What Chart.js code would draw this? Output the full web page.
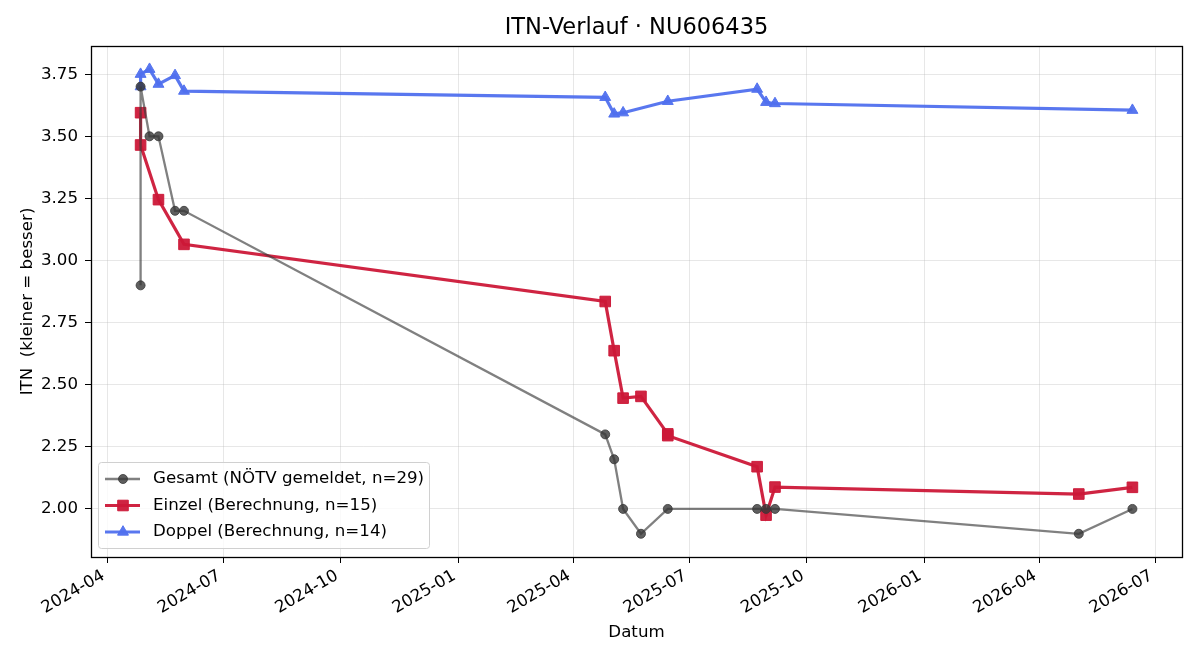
<!DOCTYPE html>
<html>
<head>
<meta charset="utf-8">
<script src="https://cdn.jsdelivr.net/npm/chart.js@4.4.1/dist/chart.umd.min.js"></script>
<style>
  html, body { margin: 0; padding: 0; background: #fff; }
  #wrap { width: 1200px; height: 660px; }
</style>
</head>
<body>
<div id="wrap"><canvas id="itnChart" width="1200" height="660"></canvas></div>
<script>
// Gesamt (NÖTV gemeldet)
const gesamtDates = ['2024-04-27', '2024-04-27', '2024-05-04', '2024-05-11', '2024-05-24', '2024-05-31',
  '2025-04-26', '2025-05-03', '2025-05-10', '2025-05-24', '2025-06-14',
  '2025-08-23', '2025-08-30', '2025-09-06', '2026-05-02', '2026-06-13'];
const gesamtValues = [2.90, 3.70, 3.50, 3.50, 3.20, 3.20,
  2.30, 2.20, 2.00, 1.90, 2.00,
  2.00, 2.00, 2.00, 1.90, 2.00];

// Einzel (Berechnung)
const einzelDates = ['2024-04-27', '2024-04-27', '2024-05-11', '2024-05-31',
  '2025-04-26', '2025-05-03', '2025-05-10', '2025-05-24', '2025-06-14', '2025-06-14',
  '2025-08-23', '2025-08-30', '2025-09-06', '2026-05-02', '2026-06-13'];
const einzelValues = [3.595, 3.465, 3.245, 3.065,
  2.835, 2.637, 2.446, 2.453, 2.302, 2.295,
  2.170, 1.975, 2.088, 2.060, 2.087];

// Doppel (Berechnung)
const doppelDates = ['2024-04-27', '2024-04-27', '2024-05-04', '2024-05-11', '2024-05-24', '2024-05-31',
  '2025-04-26', '2025-05-03', '2025-05-10', '2025-06-14',
  '2025-08-23', '2025-08-30', '2025-09-06', '2026-06-13'];
const doppelValues = [3.70, 3.75, 3.77, 3.71, 3.745, 3.682,
  3.657, 3.590, 3.595, 3.641,
  3.690, 3.637, 3.632, 3.605];

const seriesLabels = ['Gesamt (NÖTV gemeldet, n=29)', 'Einzel (Berechnung, n=15)', 'Doppel (Berechnung, n=14)'];
const chartTitle = 'ITN-Verlauf · NU606435';

const xTickLabels = ['2024-04', '2024-07', '2024-10', '2025-01', '2025-04', '2025-07', '2025-10', '2026-01', '2026-04', '2026-07'];
const yTickValues = [2.00, 2.25, 2.50, 2.75, 3.00, 3.25, 3.50, 3.75];

const FONT = "'DejaVu Sans', sans-serif";
const TXT = 16.67;

function toPoints(dates, values) {
  return dates.map((d, i) => ({ x: Date.parse(d), y: values[i] }));
}

// axis limits with 5% margin like matplotlib autoscale
const allX = [...gesamtDates, ...einzelDates, ...doppelDates].map(d => Date.parse(d));
const allY = [...gesamtValues, ...einzelValues, ...doppelValues];
const xLo = Math.min(...allX), xHi = Math.max(...allX);
const yLo = Math.min(...allY), yHi = Math.max(...allY);
const xPad = (xHi - xLo) * 0.05, yPad = (yHi - yLo) * 0.05;

const xTickValues = xTickLabels.map(l => Date.parse(l + '-01'));

// frame around the plot area + title centred over the axes
const framePlugin = {
  id: 'frame',
  afterDatasetsDraw(chart) {
    const { ctx, chartArea: a } = chart;
    ctx.save();
    ctx.strokeStyle = '#000';
    ctx.lineWidth = 1.3;
    ctx.strokeRect(Math.round(a.left) + 0.5, Math.round(a.top) + 0.5,
      Math.round(a.right - a.left), Math.round(a.bottom - a.top));
    ctx.fillStyle = '#000';
    ctx.font = '22.5px ' + FONT;
    ctx.textAlign = 'center';
    ctx.textBaseline = 'middle';
    ctx.fillText(chartTitle, (a.left + a.right) / 2, 28);
    ctx.restore();
  }
};

// legend inside the axes, lower left
const innerLegend = {
  id: 'innerLegend',
  afterDraw(chart) {
    const { ctx, chartArea: a } = chart;
    const x0 = a.left + 7, y0 = a.bottom - 95, w = 331, h = 86;
    ctx.save();
    ctx.beginPath();
    ctx.roundRect(x0 + 0.5, y0 + 0.5, w, h, 3);
    ctx.fillStyle = 'rgba(255,255,255,0.8)';
    ctx.fill();
    ctx.strokeStyle = '#d0d0d0';
    ctx.lineWidth = 1;
    ctx.stroke();
    chart.data.datasets.forEach((ds, i) => {
      const cy = y0 + 17 + i * 26.5;
      ctx.beginPath();
      ctx.moveTo(x0 + 7, cy);
      ctx.lineTo(x0 + 42, cy);
      ctx.strokeStyle = ds.borderColor;
      ctx.lineWidth = ds.borderWidth;
      ctx.stroke();
      ctx.fillStyle = ds.pointBackgroundColor;
      ctx.strokeStyle = ds.pointBorderColor;
      ctx.lineWidth = 1;
      Chart.helpers.drawPoint(ctx, { pointStyle: ds.pointStyle, radius: ds.pointRadius, borderWidth: 1 }, x0 + 25, cy);
      ctx.fillStyle = '#000';
      ctx.font = TXT + 'px ' + FONT;
      ctx.textAlign = 'left';
      ctx.textBaseline = 'middle';
      ctx.fillText(ds.label, x0 + 55, cy);
    });
    ctx.restore();
  }
};

const ctx = document.getElementById('itnChart').getContext('2d');
const chart = new Chart(ctx, {
  type: 'line',
  data: {
    datasets: [
      {
        label: seriesLabels[0],
        data: toPoints(gesamtDates, gesamtValues),
        borderColor: 'rgba(60,60,60,0.65)',
        borderWidth: 2.3,
        pointStyle: 'circle',
        pointRadius: 4.5,
        pointBackgroundColor: 'rgba(55,55,55,0.8)',
        pointBorderColor: 'rgba(55,55,55,0.8)',
        pointBorderWidth: 1,
        tension: 0,
        fill: false
      },
      {
        label: seriesLabels[1],
        data: toPoints(einzelDates, einzelValues),
        borderColor: 'rgba(204,24,56,0.95)',
        borderWidth: 3.2,
        pointStyle: 'rect',
        pointRadius: 7.5,
        pointBackgroundColor: 'rgba(204,24,56,0.95)',
        pointBorderColor: 'rgba(204,24,56,0.95)',
        pointBorderWidth: 1,
        tension: 0,
        fill: false
      },
      {
        label: seriesLabels[2],
        data: toPoints(doppelDates, doppelValues),
        borderColor: 'rgba(80,112,238,0.95)',
        borderWidth: 3.2,
        pointStyle: 'triangle',
        pointRadius: 6.3,
        pointBackgroundColor: 'rgba(80,112,238,0.95)',
        pointBorderColor: 'rgba(80,112,238,0.95)',
        pointBorderWidth: 1,
        tension: 0,
        fill: false
      }
    ]
  },
  options: {
    responsive: false,
    animation: false,
    devicePixelRatio: 1,
    layout: { padding: { top: 46, right: 18, bottom: 0, left: 0 } },
    plugins: {
      legend: { display: false },
      tooltip: { enabled: false },
      title: { display: false }
    },
    scales: {
      x: {
        type: 'linear',
        min: xLo - xPad,
        max: xHi + xPad,
        afterFit(scale) { scale.height = 103; },
        afterBuildTicks(scale) { scale.ticks = xTickValues.map(v => ({ value: v })); },
        ticks: {
          autoSkip: false,
          maxRotation: 30,
          minRotation: 30,
          padding: 3,
          labelOffset: -4,
          color: '#000',
          font: { family: FONT, size: TXT },
          callback: (v) => xTickLabels[xTickValues.indexOf(v)]
        },
        grid: {
          color: 'rgba(176,176,176,0.3)',
          tickColor: '#000',
          tickLength: 6
        },
        border: { display: false },
        title: {
          display: true,
          text: 'Datum',
          color: '#000',
          font: { family: FONT, size: TXT },
          padding: { top: 0, bottom: 17 }
        }
      },
      y: {
        min: yLo - yPad,
        max: yHi + yPad,
        afterFit(scale) { scale.width = 91; },
        afterBuildTicks(scale) { scale.ticks = yTickValues.map(v => ({ value: v })); },
        ticks: {
          padding: 7,
          color: '#000',
          font: { family: FONT, size: TXT },
          callback: (v) => v.toFixed(2)
        },
        grid: {
          color: 'rgba(176,176,176,0.3)',
          tickColor: '#000',
          tickLength: 6
        },
        border: { display: false },
        title: {
          display: true,
          text: 'ITN  (kleiner = besser)',
          color: '#000',
          font: { family: FONT, size: TXT },
          padding: { top: 17.5, bottom: 0 }
        }
      }
    }
  },
  plugins: [framePlugin, innerLegend]
});
</script>
</body>
</html>
